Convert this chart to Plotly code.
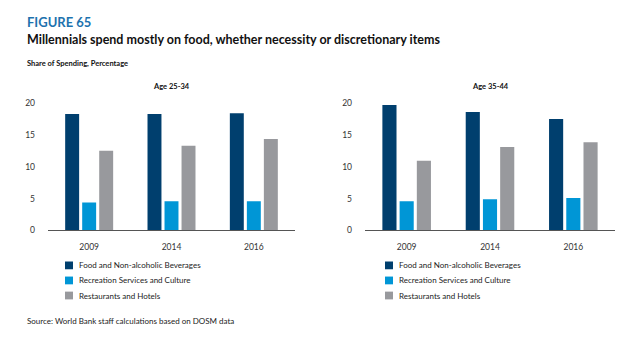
import plotly.graph_objects as go

years = ["2009", "2014", "2016"]
series_names = ["Food and Non-alcoholic Beverages", "Recreation Services and Culture", "Restaurants and Hotels"]
colors = ["#003F6E", "#0096D6", "#98999D"]

age_25_34_food = [18.3, 18.3, 18.4]
age_25_34_recreation = [4.4, 4.6, 4.6]
age_25_34_restaurants = [12.5, 13.3, 14.35]

age_35_44_food = [19.7, 18.6, 17.5]
age_35_44_recreation = [4.6, 4.9, 5.1]
age_35_44_restaurants = [10.95, 13.1, 13.85]

panel_titles = ["Age 25-34", "Age 35-44"]
y_ticks = [0, 5, 10, 15, 20]

W, H = 630, 352
FONT = "Lato"

fig = go.Figure()
panels = [
    (age_25_34_food, age_25_34_recreation, age_25_34_restaurants),
    (age_35_44_food, age_35_44_recreation, age_35_44_restaurants),
]
axes = [("x", "y"), ("x2", "y2")]
for (vals, (xa, ya)) in zip(panels, axes):
    for name, v, c in zip(series_names, vals, colors):
        fig.add_trace(go.Bar(x=years, y=v, name=name, marker=dict(color=c, line=dict(width=0)),
                             xaxis=xa, yaxis=ya, showlegend=False))

def px_x(px):
    return px / W

def px_y(py):
    return 1 - py / H

ydom = [px_y(232), px_y(101)]
xaxis_common = dict(type="category", showgrid=False, zeroline=False, showline=True,
                    linecolor="#555555", linewidth=1, ticks="", ticklabelstandoff=8,
                    tickfont=dict(size=8.5, color="#333333", family=FONT), range=[-0.5, 2.5])
yaxis_common = dict(showgrid=False, zeroline=False, showline=False, range=[0, 20],
                    tickvals=y_ticks, ticks="", ticklabelstandoff=12,
                    tickfont=dict(size=8.5, color="#333333", family=FONT),
                    domain=ydom)

fig.update_layout(
    width=W, height=H, margin=dict(l=0, r=0, t=0, b=0),
    paper_bgcolor="white", plot_bgcolor="white",
    barmode="group", bargap=0.38, bargroupgap=0.18,
    font=dict(family=FONT),
    xaxis=dict(domain=[px_x(48), px_x(295)], anchor="y", **xaxis_common),
    yaxis=dict(anchor="x", **yaxis_common),
    xaxis2=dict(domain=[px_x(365), px_x(615)], anchor="y2", **xaxis_common),
    yaxis2=dict(anchor="x2", **yaxis_common),
)

ann = []
shapes = []
ann.append(dict(text="<b>FIGURE 65</b>", x=px_x(25), y=px_y(18), xref="paper", yref="paper",
                xanchor="left", yanchor="middle", showarrow=False,
                font=dict(size=13, color="#1D72AE", family=FONT)))
ann.append(dict(text="<b>Millennials spend mostly on food, whether necessity or discretionary items</b>",
                x=px_x(25), y=px_y(36), xref="paper", yref="paper", xanchor="left", yanchor="middle",
                showarrow=False, font=dict(size=12.5, color="#111111", family=FONT)))
ann.append(dict(text="<b>Share of Spending, Percentage</b>", x=px_x(25), y=px_y(60), xref="paper", yref="paper",
                xanchor="left", yanchor="middle", showarrow=False, font=dict(size=7.5, color="#111111", family=FONT)))
for title, cx in zip(panel_titles, [171.5, 490]):
    ann.append(dict(text="<b>" + title + "</b>", x=px_x(cx), y=px_y(84), xref="paper", yref="paper",
                    xanchor="center", yanchor="middle", showarrow=False,
                    font=dict(size=7.5, color="#111111", family=FONT)))

legend_rows = [268, 283.5, 299]
for lx in [65, 385]:
    for name, c, ry in zip(series_names, colors, legend_rows):
        shapes.append(dict(type="rect", xref="paper", yref="paper",
                           x0=px_x(lx), x1=px_x(lx + 8), y0=px_y(ry + 4), y1=px_y(ry - 4),
                           fillcolor=c, line=dict(width=0)))
        ann.append(dict(text=name, x=px_x(lx + 12), y=px_y(ry), xref="paper", yref="paper",
                        xanchor="left", yanchor="middle", showarrow=False,
                        font=dict(size=8, color="#222222", family=FONT)))

ann.append(dict(text="Source: World Bank staff calculations based on DOSM data", x=px_x(25), y=px_y(325),
                xref="paper", yref="paper", xanchor="left", yanchor="middle", showarrow=False,
                font=dict(size=8, color="#222222", family=FONT)))

fig.update_layout(annotations=ann, shapes=shapes)
fig.write_html("out.html")
